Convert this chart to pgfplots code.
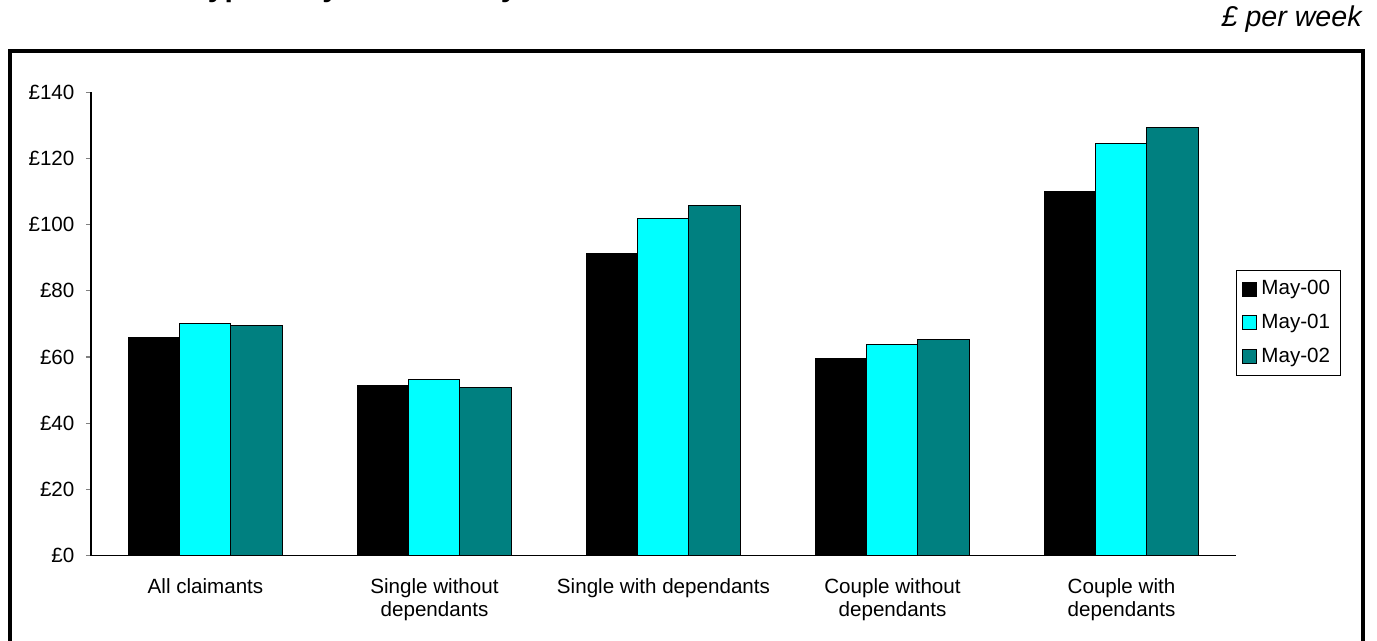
\documentclass[border=0pt]{standalone}
\usepackage{pgfplots}
\pgfplotsset{compat=1.18}
\usepackage{fontspec}
\setmainfont{Liberation Sans}
\definecolor{mayzero}{RGB}{0,0,0}
\definecolor{mayone}{RGB}{0,255,255}
\definecolor{maytwo}{RGB}{0,128,128}

% Average weekly amounts by claimant type
\pgfplotstableread{
x  y00    y01    y02
0  65.9   70.1   69.6
1  51.3   53.1   50.7
2  91.4   101.8  105.7
3  59.5   63.7   65.2
4  110.1  124.6  129.5
}\claimdata

\begin{document}
\begin{tikzpicture}
\begin{axis}[
  scale only axis, width=572.5pt, height=231.7pt,
  xmin=-0.5, xmax=4.5, ymin=0, ymax=140,
  axis x line*=bottom, axis y line*=left,
  axis line style={-, line width=0.6pt},
  ybar=0pt, bar width=25.5pt,
  ytick={0,20,...,140},
  yticklabel={£\pgfmathprintnumber{\tick}},
  /pgf/number format/assume math mode=true,
  ytick align=outside, ytick style={line width=0.6pt, /pgfplots/major tick length=2.5pt},
  yticklabel style={xshift=-0.5pt},
  xtick={0,...,4},
  xticklabels={All claimants, Single without\\dependants, Single with dependants, Couple without\\dependants, Couple with\\dependants},
  xticklabel style={align=center, yshift=-6pt},
  xtick style={draw=none},
  minor xtick={-0.5,0.5,...,4.5},
  minor tick length=6.5pt,
  xtick align=center,
  minor x tick style={line width=0.6pt},
  tick label style={font=\fontsize{10.3}{11.5}\selectfont},
  legend style={at={(1,0.6165)}, anchor=north west, draw=black, line width=0.4pt,
    font=\fontsize{10.3}{12}\selectfont, row sep=4.2pt, inner sep=3pt,
    cells={anchor=west}},
  legend image code/.code={\draw[#1, line width=0.5pt] (0.5pt,-3.5pt) rectangle (7.5pt,3.5pt);},
  every axis plot/.append style={draw=black, line width=0.5pt},
]
\addplot[fill=mayzero] table[x=x, y=y00] {\claimdata};
\addplot[fill=mayone] table[x=x, y=y01] {\claimdata};
\addplot[fill=maytwo] table[x=x, y=y02] {\claimdata};
\legend{May-00, May-01, May-02}
\coordinate (O) at (rel axis cs:0,0);
\end{axis}
% outer frame, heading and unit note, placed from the plot area's corner
\begin{scope}[shift={(O)}]
\draw[line width=1.75pt] (-40.5pt,-62.65pt) rectangle (636pt,252.35pt);
\node[anchor=base east, inner sep=0, font=\fontsize{15}{18}\selectfont\bfseries] at (251pt,279.5pt) {type: May 2000 to May 2002};
\node[anchor=base east, inner sep=0, font=\fontsize{14.3}{16}\selectfont\itshape] at (635.5pt,264.35pt) {£ per week};
\end{scope}
\pgfresetboundingbox
\path[use as bounding box] ([shift={(-45.5pt,-42.65pt)}]O) rectangle ([shift={(643pt,277.85pt)}]O);
\end{tikzpicture}
\end{document}
